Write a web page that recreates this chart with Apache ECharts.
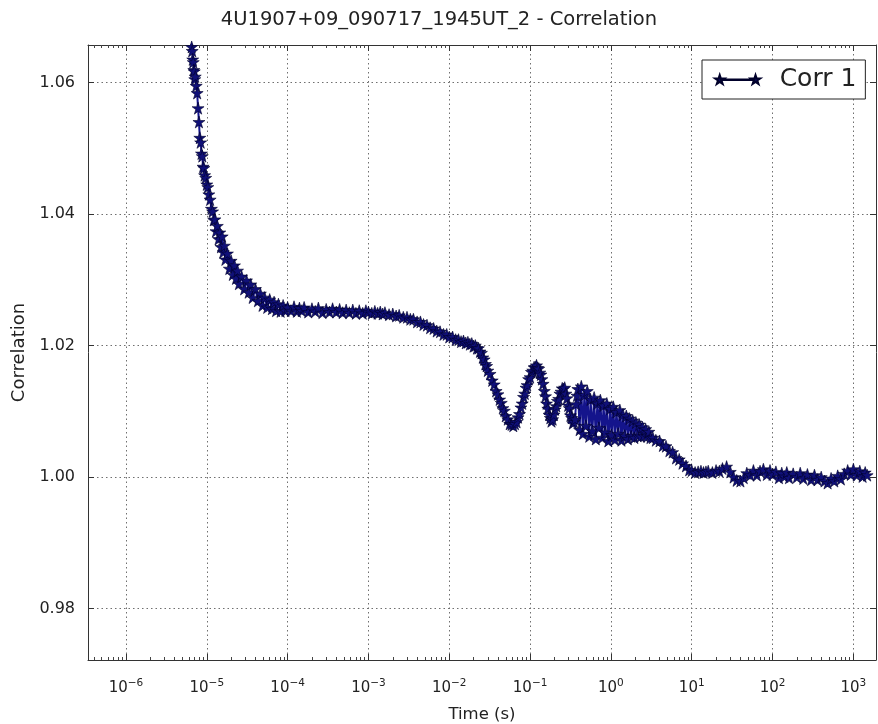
<!DOCTYPE html>
<html>
<head>
<meta charset="utf-8">
<title>4U1907+09_090717_1945UT_2 - Correlation</title>
<script src="https://cdn.jsdelivr.net/npm/echarts@6/dist/echarts.min.js"></script>
<style>
  html, body { margin: 0; padding: 0; background: #ffffff; }
  #chart { width: 878px; height: 724px; }
</style>
</head>
<body>
<div id="chart"></div>
<script>
// Lag times (s) of the correlation curve
const lagTimes = [
  6.0e-6, 6.1e-6, 6.2e-6, 6.3e-6, 6.4e-6, 6.5e-6, 6.6e-6, 6.7e-6, 6.8e-6, 6.9e-6,
  7.0e-6, 7.1e-6, 7.2e-6, 7.4e-6, 7.6e-6, 7.8e-6, 8.0e-6, 8.2e-6, 8.4e-6, 8.6e-6,
  8.8e-6, 9.0e-6, 9.2e-6, 9.4e-6, 9.7e-6, 1.0e-5, 1.03e-5, 1.06e-5, 1.1e-5, 1.14e-5,
  1.18e-5, 1.22e-5, 1.26e-5, 1.3e-5, 1.35e-5, 1.4e-5, 1.45e-5, 1.5e-5, 1.55e-5, 1.6e-5,
  1.65e-5, 1.7e-5, 1.8e-5, 1.9e-5, 2.0e-5, 2.1e-5, 2.2e-5, 2.3e-5, 2.4e-5, 2.5e-5,
  2.7e-5, 2.9e-5, 3.1e-5, 3.3e-5, 3.5e-5, 3.7e-5, 4.0e-5, 4.3e-5, 4.6e-5, 4.9e-5,
  5.2e-5, 5.6e-5, 6.0e-5, 6.4e-5, 6.8e-5, 7.2e-5, 7.7e-5, 8.2e-5, 8.8e-5, 9.4e-5,
  1.0e-4, 1.1e-4, 1.2e-4, 1.3e-4, 1.4e-4, 1.5e-4, 1.6e-4, 1.8e-4, 2.0e-4, 2.2e-4,
  2.4e-4, 2.7e-4, 3.0e-4, 3.3e-4, 3.6e-4, 4.0e-4, 4.4e-4, 4.8e-4, 5.3e-4, 5.8e-4,
  6.4e-4, 7.0e-4, 7.7e-4, 8.5e-4, 9.3e-4,
  1.0e-3, 1.1e-3, 1.2e-3, 1.3e-3, 1.4e-3, 1.5e-3, 1.6e-3, 1.8e-3, 2.0e-3, 2.2e-3,
  2.4e-3, 2.7e-3, 3.0e-3, 3.3e-3, 3.6e-3, 4.0e-3, 4.4e-3, 4.8e-3, 5.3e-3, 5.8e-3,
  6.4e-3, 7.0e-3, 7.7e-3, 8.5e-3, 9.3e-3,
  0.010, 0.011, 0.012, 0.013, 0.014, 0.015, 0.016, 0.017, 0.018, 0.019,
  0.020, 0.021, 0.022, 0.023, 0.024, 0.025, 0.026, 0.027, 0.028, 0.029,
  0.030, 0.032, 0.034, 0.036, 0.038, 0.040, 0.042, 0.044, 0.046, 0.048,
  0.050, 0.053, 0.056, 0.059, 0.062, 0.065, 0.068, 0.071, 0.074, 0.077,
  0.080, 0.083, 0.086, 0.089, 0.092, 0.096,
  0.100, 0.104, 0.108, 0.112, 0.116, 0.120, 0.124, 0.128, 0.132, 0.136,
  0.140, 0.145, 0.150, 0.155, 0.160, 0.166, 0.172, 0.178, 0.184, 0.190,
  0.197, 0.204, 0.211, 0.218, 0.226, 0.234, 0.242, 0.250, 0.259, 0.268,
  0.277, 0.286, 0.296, 0.306, 0.316, 0.327, 0.338, 0.349, 0.360, 0.370,
  0.380,
  0.39, 0.41, 0.43, 0.45, 0.47, 0.49, 0.51, 0.54, 0.56, 0.59,
  0.62, 0.65, 0.68, 0.71, 0.74, 0.78, 0.81, 0.85, 0.89, 0.93,
  0.98, 1.02, 1.07, 1.12, 1.17, 1.23, 1.29, 1.35, 1.41, 1.48,
  1.55, 1.62, 1.70, 1.78, 1.86, 1.95, 2.04, 2.14, 2.24, 2.34,
  2.45, 2.57, 2.69, 2.82, 2.95, 3.09,
  3.3, 3.6, 4.0, 4.4, 4.8, 5.3, 5.8, 6.4, 7.0, 7.7, 8.5, 9.3,
  10, 11, 12, 13, 14, 15, 16, 18, 20, 22,
  24, 27, 30, 33, 36, 40, 44, 48, 53, 58,
  64, 70, 77, 85, 93,
  100, 110, 120, 130, 140, 150, 160, 180, 200, 220,
  240, 270, 300, 330, 360, 400, 440, 480, 530, 580,
  640, 700, 770, 850, 930,
  1000, 1100, 1200, 1300, 1400, 1480
];

// Correlation value at each lag ("Corr 1")
const corr1 = [
  1.0705, 1.0688, 1.0680, 1.0668, 1.0664, 1.0654, 1.0648, 1.0635, 1.0631, 1.0619,
  1.0617, 1.0605, 1.0609, 1.0595, 1.0584, 1.0561, 1.0540, 1.0516, 1.0509, 1.0492,
  1.0488, 1.0472, 1.0470, 1.0459, 1.0455, 1.0445, 1.0441, 1.0430, 1.0422, 1.0408,
  1.0404, 1.0391, 1.0392, 1.0374, 1.0382, 1.0362, 1.0372, 1.0350, 1.0366, 1.0342,
  1.0352, 1.0331, 1.0340, 1.0317, 1.0329, 1.0308, 1.0322, 1.0302, 1.0314, 1.0294,
  1.0305, 1.0286, 1.0299, 1.0281, 1.0293, 1.0273, 1.0286, 1.0268, 1.0279, 1.0261,
  1.0273, 1.0258, 1.0270, 1.0256, 1.0266, 1.0253, 1.0263, 1.0252, 1.0261, 1.0253,
  1.0258, 1.0253, 1.0259, 1.0252, 1.0257, 1.0253, 1.0258, 1.0251, 1.0256, 1.0252,
  1.0257, 1.0250, 1.0255, 1.0251, 1.0256, 1.0251, 1.0255, 1.0250, 1.0254, 1.0250,
  1.0254, 1.0249, 1.0253, 1.0249, 1.0253,
  1.0251, 1.0249, 1.0252, 1.0249, 1.0251, 1.0248, 1.0250, 1.0247, 1.0248, 1.0245,
  1.0246, 1.0243, 1.0243, 1.0240, 1.0240, 1.0236, 1.0236, 1.0232, 1.0231, 1.0227,
  1.0226, 1.0222, 1.0221, 1.0217, 1.0217,
  1.0213, 1.0213, 1.0209, 1.0209, 1.0206, 1.0207, 1.0204, 1.0205, 1.0202, 1.0203,
  1.0199, 1.0200, 1.0196, 1.0196, 1.0191, 1.0189, 1.0182, 1.0179, 1.0172, 1.0169,
  1.0162, 1.0157, 1.0147, 1.0141, 1.0131, 1.0126, 1.0118, 1.0113, 1.0105, 1.0101,
  1.0093, 1.0088, 1.0081, 1.0080, 1.0078, 1.0081, 1.0084, 1.0091, 1.0096, 1.0106,
  1.0112, 1.0122, 1.0127, 1.0136, 1.0140, 1.0149,
  1.0152, 1.0160, 1.0162, 1.0167, 1.0167, 1.0170, 1.0166, 1.0165, 1.0159, 1.0156,
  1.0149, 1.0142, 1.0131, 1.0123, 1.0112, 1.0104, 1.0095, 1.0090, 1.0085, 1.0088,
  1.0095, 1.0103, 1.0108, 1.0116, 1.0119, 1.0127, 1.0130, 1.0135, 1.0134, 1.0136,
  1.0127, 1.0120, 1.0109, 1.0105, 1.0094, 1.0090, 1.0082, 1.0084, 1.0088, 1.0111,
  1.0124,
  1.0134, 1.0072, 1.0138, 1.0066, 1.0125, 1.0078, 1.0131, 1.0062, 1.0118, 1.0070,
  1.0121, 1.0058, 1.0112, 1.0075, 1.0117, 1.0060, 1.0109, 1.0068, 1.0112, 1.0055,
  1.0104, 1.0064, 1.0107, 1.0057, 1.0099, 1.0066, 1.0102, 1.0056, 1.0095, 1.0063,
  1.0093, 1.0058, 1.0089, 1.0062, 1.0086, 1.0060, 1.0083, 1.0063, 1.0080, 1.0062,
  1.0076, 1.0063, 1.0073, 1.0062, 1.0069, 1.0060,
  1.0060, 1.0056, 1.0055, 1.0048, 1.0047, 1.0040, 1.0038, 1.0029, 1.0027, 1.0021, 1.0017, 1.0011,
  1.0010, 1.0007, 1.0008, 1.0009, 1.0007, 1.0008, 1.0009, 1.0007, 1.0010, 1.0009,
  1.0013, 1.0016, 1.0008, 1.0000, 0.9995, 0.9994, 0.9999, 1.0006, 1.0003, 1.0010,
  1.0003, 1.0009, 1.0012, 1.0004, 1.0010,
  1.0004, 1.0008, 0.9999, 1.0006, 1.0001, 1.0007, 0.9999, 1.0005, 1.0000, 1.0006,
  0.9998, 1.0004, 0.9996, 1.0003, 0.9996, 1.0000, 0.9994, 0.9991, 0.9998, 0.9994,
  1.0002, 0.9997, 1.0005, 1.0010, 1.0004,
  1.0012, 1.0003, 1.0009, 1.0001, 1.0007, 1.0003
];

// Axis ticks
const timeMajorTicks = [1e-6, 1e-5, 1e-4, 1e-3, 1e-2, 1e-1, 1e0, 1e1, 1e2, 1e3];
const corrTicks = [0.98, 1.00, 1.02, 1.04, 1.06];

const timeMin = 3.39e-7;
const timeMax = 1905;
const corrMin = 0.9722;
const corrMax = 1.0657;

// minor log ticks at 2..9 x 10^k inside the visible range
const timeMinorTicks = [];
for (let k = -7; k <= 3; k++) {
  for (let m = 2; m <= 9; m++) {
    const v = m * Math.pow(10, k);
    if (v > timeMin && v < timeMax) timeMinorTicks.push(v);
  }
}

const FONT = '"DejaVu Sans", Verdana, sans-serif';
const INK = '#222222';
const STAR = 'path://M50,0 L61.2,34.5 L97.6,34.5 L68.2,55.9 L79.4,90.5 L50,69.1 L20.6,90.5 L31.8,55.9 L2.4,34.5 L38.8,34.5 Z';
// legend glyph: a star at each end joined by a thin line
const LEGEND_ICON = 'path://M50,0 L61.2,34.5 L97.6,34.5 L68.2,55.9 L79.4,90.5 L50,69.1 L20.6,90.5 L31.8,55.9 L2.4,34.5 L38.8,34.5 Z ' +
  'M60,45 L400,45 L400,50 L60,50 Z ' +
  'M410,0 L421.2,34.5 L457.6,34.5 L428.2,55.9 L439.4,90.5 L410,69.1 L380.6,90.5 L391.8,55.9 L362.4,34.5 L398.8,34.5 Z';

const seriesData = lagTimes.map((t, i) => [t, corr1[i]]);

const expLabel = v => {
  const e = Math.round(Math.log10(v));
  return '{b|10}{s|' + (e < 0 ? '\u2212' : '') + Math.abs(e) + '}';
};

const dotted = { color: '#6f6f6f', width: 1, type: [1.5, 3] };
const frame = { show: true, lineStyle: { color: '#333333', width: 1 } };

const chart = echarts.init(document.getElementById('chart'), null, { renderer: 'canvas' });

chart.setOption({
  backgroundColor: '#ffffff',
  animation: false,
  title: {
    text: '4U1907+09_090717_1945UT_2 - Correlation',
    left: 'center',
    top: 5,
    textStyle: { fontFamily: FONT, fontSize: 19.5, fontWeight: 'normal', color: INK }
  },
  legend: {
    data: ['Corr 1'],
    left: 702,
    top: 60,
    orient: 'vertical',
    icon: LEGEND_ICON,
    itemWidth: 46,
    itemHeight: 9,
    padding: [7, 9, 7, 12],
    backgroundColor: '#ffffff',
    borderColor: '#222222',
    borderWidth: 1,
    borderRadius: 0,
    textStyle: { fontFamily: FONT, fontSize: 25, color: INK, padding: [0, 0, 0, 14] }
  },
  grid: {
    left: 88,
    right: 2,
    top: 45,
    bottom: 64,
    containLabel: false,
    outerBoundsMode: 'none'
  },
  xAxis: [
    {
      type: 'log',
      position: 'bottom',
      min: timeMin,
      max: timeMax,
      name: 'Time (s)',
      nameLocation: 'middle',
      nameGap: 46,
      nameTextStyle: { fontFamily: FONT, fontSize: 16.5, color: INK },
      axisLine: frame,
      axisTick: { show: true, inside: true, length: 6, customValues: timeMajorTicks, lineStyle: { color: '#333333' } },
      axisLabel: {
        customValues: timeMajorTicks,
        margin: 18,
        formatter: expLabel,
        rich: {
          b: { fontFamily: FONT, fontSize: 15, color: INK },
          s: { fontFamily: FONT, fontSize: 10.5, color: INK, padding: [0, 0, 10, 0] }
        }
      },
      splitLine: { show: true, lineStyle: dotted }
    },
    {
      type: 'log',
      position: 'bottom',
      min: timeMin,
      max: timeMax,
      axisLine: { show: false },
      axisTick: { show: true, inside: true, length: 3, customValues: timeMinorTicks, lineStyle: { color: '#444444' } },
      axisLabel: { show: false },
      splitLine: { show: false }
    },
    {
      type: 'log',
      position: 'top',
      min: timeMin,
      max: timeMax,
      axisLine: frame,
      axisTick: { show: true, inside: true, length: 6, customValues: timeMajorTicks, lineStyle: { color: '#333333' } },
      axisLabel: { show: false },
      splitLine: { show: false }
    },
    {
      type: 'log',
      position: 'top',
      min: timeMin,
      max: timeMax,
      axisLine: { show: false },
      axisTick: { show: true, inside: true, length: 3, customValues: timeMinorTicks, lineStyle: { color: '#444444' } },
      axisLabel: { show: false },
      splitLine: { show: false }
    }
  ],
  yAxis: [
    {
      type: 'value',
      position: 'left',
      min: corrMin,
      max: corrMax,
      name: 'Correlation',
      nameLocation: 'middle',
      nameGap: 56,
      nameTextStyle: { fontFamily: FONT, fontSize: 18, color: INK },
      axisLine: frame,
      axisTick: { show: true, inside: true, length: 6, customValues: corrTicks, lineStyle: { color: '#333333' } },
      axisLabel: {
        customValues: corrTicks,
        margin: 13,
        fontFamily: FONT,
        fontSize: 16,
        color: INK,
        formatter: v => v.toFixed(2)
      },
      splitLine: { show: true, lineStyle: dotted }
    },
    {
      type: 'value',
      position: 'right',
      min: corrMin,
      max: corrMax,
      axisLine: frame,
      axisTick: { show: true, inside: true, length: 6, customValues: corrTicks, lineStyle: { color: '#333333' } },
      axisLabel: { show: false },
      splitLine: { show: false }
    }
  ],
  series: [
    {
      name: 'Corr 1',
      type: 'line',
      xAxisIndex: 0,
      yAxisIndex: 0,
      data: seriesData,
      clip: true,
      showAllSymbol: true,
      symbol: STAR,
      symbolSize: 12,
      lineStyle: { color: '#14148c', width: 2 },
      itemStyle: { color: '#101078', borderColor: '#00002a', borderWidth: 0.6 },
      emphasis: { disabled: true }
    }
  ]
});
</script>
</body>
</html>
